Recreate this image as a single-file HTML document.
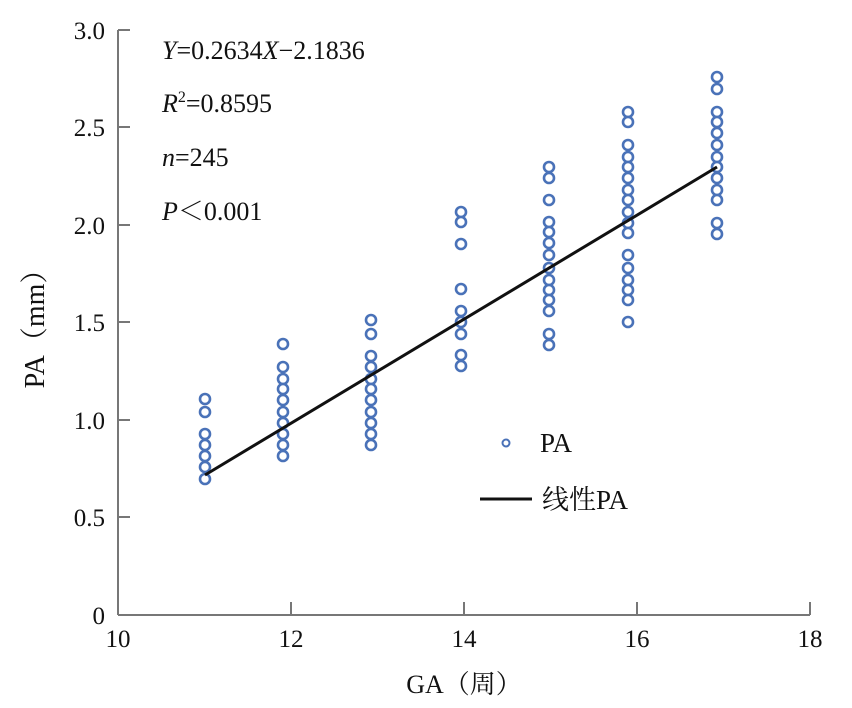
<!DOCTYPE html>
<html><head><meta charset="utf-8"><style>
body{margin:0;background:#fff}
svg{display:block}
text{font-family:"Liberation Serif","Noto Serif CJK SC",serif;fill:#111}
</style></head><body>
<svg width="852" height="708" viewBox="0 0 852 708" xmlns="http://www.w3.org/2000/svg">
<g stroke="#777" stroke-width="2" fill="none">
<line x1="118" y1="30" x2="118" y2="615"/>
<line x1="118" y1="615" x2="810" y2="615"/>
<line x1="118" y1="30" x2="130" y2="30"/>
<line x1="118" y1="127" x2="130" y2="127"/>
<line x1="118" y1="225" x2="130" y2="225"/>
<line x1="118" y1="322" x2="130" y2="322"/>
<line x1="118" y1="420" x2="130" y2="420"/>
<line x1="118" y1="517" x2="130" y2="517"/>
<line x1="291" y1="602" x2="291" y2="615"/>
<line x1="464" y1="602" x2="464" y2="615"/>
<line x1="637" y1="602" x2="637" y2="615"/>
<line x1="810" y1="602" x2="810" y2="615"/>
</g>
<g font-size="25" text-anchor="end">
<text x="105" y="39">3.0</text><text x="105" y="136">2.5</text><text x="105" y="234">2.0</text>
<text x="105" y="331">1.5</text><text x="105" y="429">1.0</text><text x="105" y="526">0.5</text>
<text x="105" y="624">0</text>
</g>
<g font-size="25" text-anchor="middle">
<text x="118" y="647">10</text><text x="291" y="647">12</text><text x="464" y="647">14</text>
<text x="637" y="647">16</text><text x="810" y="647">18</text>
<text x="464" y="693" font-size="26">GA（周）</text>
</g>
<text font-size="28" transform="translate(44,322) rotate(-90)" text-anchor="middle">PA（mm）</text>
<g font-size="26">
<text x="162" y="59"><tspan font-style="italic">Y</tspan>=0.2634<tspan font-style="italic">X</tspan>−2.1836</text>
<text x="162" y="112"><tspan font-style="italic">R</tspan><tspan font-size="16" dy="-10">2</tspan><tspan dy="10">=0.8595</tspan></text>
<text x="162" y="166"><tspan font-style="italic">n</tspan>=245</text>
<text x="162" y="220"><tspan font-style="italic">P</tspan>＜0.001</text>
</g>
<g fill="#fff" stroke="#4a72b8" stroke-width="2.6">
<g transform="translate(205,0)">
<circle cy="399" r="5"/><circle cy="412" r="5"/><circle cy="434" r="5"/><circle cy="445" r="5"/><circle cy="456" r="5"/><circle cy="467" r="5"/><circle cy="479" r="5"/>
</g>
<g transform="translate(283,0)">
<circle cy="344" r="5"/><circle cy="367" r="5"/><circle cy="379" r="5"/><circle cy="389" r="5"/><circle cy="400" r="5"/><circle cy="412" r="5"/><circle cy="423" r="5"/><circle cy="434" r="5"/><circle cy="445" r="5"/><circle cy="456" r="5"/>
</g>
<g transform="translate(371,0)">
<circle cy="320" r="5"/><circle cy="334" r="5"/><circle cy="356" r="5"/><circle cy="367" r="5"/><circle cy="379" r="5"/><circle cy="389" r="5"/><circle cy="400" r="5"/><circle cy="412" r="5"/><circle cy="423" r="5"/><circle cy="434" r="5"/><circle cy="445" r="5"/>
</g>
<g transform="translate(461,0)">
<circle cy="212" r="5"/><circle cy="222" r="5"/><circle cy="244" r="5"/><circle cy="289" r="5"/><circle cy="311" r="5"/><circle cy="322" r="5"/><circle cy="334" r="5"/><circle cy="355" r="5"/><circle cy="366" r="5"/>
</g>
<g transform="translate(549,0)">
<circle cy="167" r="5"/><circle cy="178" r="5"/><circle cy="200" r="5"/><circle cy="222" r="5"/><circle cy="232" r="5"/><circle cy="243" r="5"/><circle cy="255" r="5"/><circle cy="268" r="5"/><circle cy="280" r="5"/><circle cy="290" r="5"/><circle cy="300" r="5"/><circle cy="311" r="5"/><circle cy="334" r="5"/><circle cy="345" r="5"/>
</g>
<g transform="translate(628,0)">
<circle cy="112" r="5"/><circle cy="122" r="5"/><circle cy="145" r="5"/><circle cy="157" r="5"/><circle cy="167" r="5"/><circle cy="178" r="5"/><circle cy="190" r="5"/><circle cy="200" r="5"/><circle cy="212" r="5"/><circle cy="223" r="5"/><circle cy="233" r="5"/><circle cy="255" r="5"/><circle cy="268" r="5"/><circle cy="280" r="5"/><circle cy="290" r="5"/><circle cy="300" r="5"/><circle cy="322" r="5"/>
</g>
<g transform="translate(717,0)">
<circle cy="77" r="5"/><circle cy="89" r="5"/><circle cy="112" r="5"/><circle cy="122" r="5"/><circle cy="133" r="5"/><circle cy="145" r="5"/><circle cy="157" r="5"/><circle cy="167" r="5"/><circle cy="178" r="5"/><circle cy="190" r="5"/><circle cy="200" r="5"/><circle cy="223" r="5"/><circle cy="234" r="5"/>
</g>
<circle cx="506" cy="443" r="3.5" stroke-width="2"/>
</g>
<line x1="205" y1="475" x2="717" y2="167" stroke="#111" stroke-width="3"/>
<line x1="480" y1="499" x2="532" y2="499" stroke="#111" stroke-width="3"/>
<text x="540" y="452" font-size="27">PA</text>
<text x="542" y="509" font-size="27">线性PA</text>
</svg>
</body></html>
